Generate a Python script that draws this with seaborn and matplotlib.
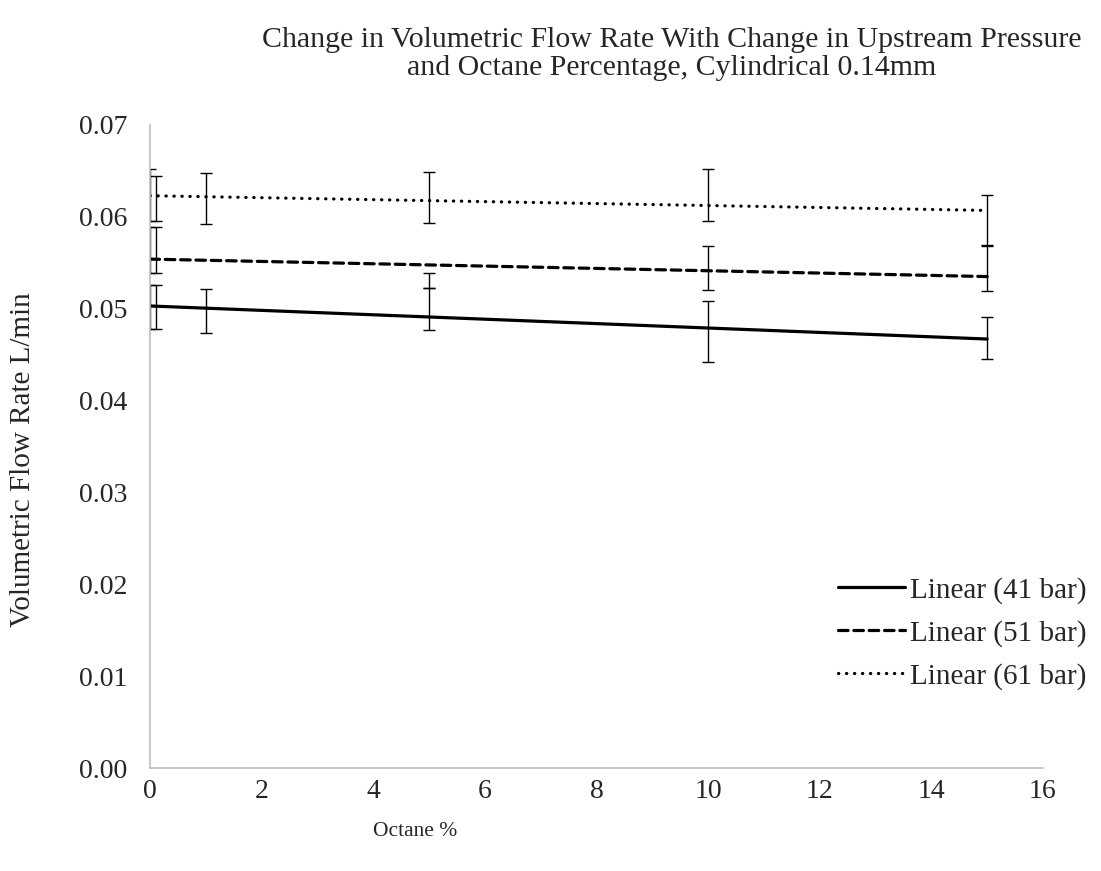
import numpy as np
import matplotlib.pyplot as plt
import seaborn as sns

# measured points (octane %) with error bars
octane_41 = [0, 0.1, 1, 5, 10, 15]
flow_41 = [0.0502, 0.0502, 0.0498, 0.0500, 0.0475, 0.0468]
err_41 = [0.0024, 0.0024, 0.0024, 0.0023, 0.0033, 0.0023]

octane_51 = [0, 0.1, 5, 10, 15]
flow_51 = [0.0564, 0.0564, 0.0531, 0.0544, 0.0544]
err_51 = [0.0025, 0.0025, 0.0008, 0.0024, 0.0025]

octane_61 = [0, 0.1, 1, 5, 10, 15]
flow_61 = [0.0624, 0.0620, 0.0620, 0.0621, 0.0624, 0.0596]
err_61 = [0.0028, 0.0024, 0.0028, 0.0028, 0.0028, 0.0028]

# linear trendlines (start / end)
trend_x = [0, 15]
trend_41 = [0.0503, 0.0467]
trend_51 = [0.0554, 0.0535]
trend_61 = [0.0623, 0.0607]

sns.set_style('white')
plt.rcParams['font.family'] = ['Liberation Serif', 'DejaVu Serif']

fig = plt.figure(figsize=(11.01, 8.71), dpi=100)
ax = fig.add_axes([0.1362, 0.1182, 0.8111, 0.7383])

series = [
    (octane_41, flow_41, err_41, trend_41, '-', 'Linear (41 bar)'),
    (octane_51, flow_51, err_51, trend_51, (0, (3, 1.8)), 'Linear (51 bar)'),
    (octane_61, flow_61, err_61, trend_61, (0, (0.1, 2.4)), 'Linear (61 bar)'),
]

for xs, ys, es, tr, ls, lab in series:
    ax.errorbar(xs, ys, yerr=es, fmt='none', ecolor='black', elinewidth=1,
                capsize=4.5, capthick=1)

for xs, ys, es, tr, ls, lab in series:
    sns.lineplot(x=trend_x, y=tr, ax=ax, color='black', linewidth=2.3,
                 linestyle=ls, label=lab, dash_capstyle='round')

ax.set_xlim(0, 16)
ax.set_ylim(0, 0.07)
ax.set_xticks(np.arange(0, 17, 2))
ax.set_yticks(np.arange(0, 0.071, 0.01))
ax.set_yticklabels([f'{v:.2f}' for v in np.arange(0, 0.071, 0.01)])
ax.tick_params(axis='both', length=0, labelsize=20)
ax.tick_params(axis='y', pad=16)
ax.tick_params(axis='x', pad=8)

for side in ['top', 'right']:
    ax.spines[side].set_visible(False)
for side in ['left', 'bottom']:
    ax.spines[side].set_color('#bfbfbf')
    ax.spines[side].set_linewidth(1.2)

ax.set_xlabel('Octane %', fontsize=15.5)
ax.xaxis.set_label_coords(0.297, -0.084)
ax.set_ylabel('Volumetric Flow Rate L/min', fontsize=21)
ax.yaxis.set_label_coords(-0.128, 0.479)

fig.text(0.610, 0.938, 'Change in Volumetric Flow Rate With Change in Upstream Pressure\n'
         'and Octane Percentage, Cylindrical 0.14mm',
         ha='center', va='center', fontsize=21.5, linespacing=1.07)

ax.legend(loc='center left', bbox_to_anchor=(0.761, 0.273),
          bbox_transform=fig.transFigure, frameon=False, fontsize=21,
          handlelength=2.3, handletextpad=0.17, labelspacing=0.55,
          borderpad=0, borderaxespad=0)

fig.savefig('out.png', dpi=100)
